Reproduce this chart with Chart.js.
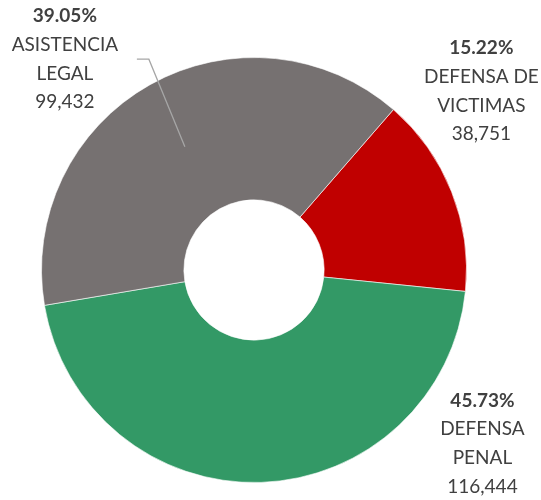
<script src="https://cdn.jsdelivr.net/npm/chart.js"></script>
<style>
    html, body { margin: 0; padding: 0; background: #fff; }
    .chart-container { width: 541px; height: 500px; position: relative; }
</style>
<div class="chart-container">
    <canvas id="shareChart" width="541" height="500"></canvas>
</div>

<script>
    // data, clockwise from the red slice
    var categories = [['DEFENSA DE', 'VICTIMAS'], ['DEFENSA', 'PENAL'], ['ASISTENCIA', 'LEGAL']];
    var caseCounts = [38751, 116444, 99432];
    var sliceColors = ['#C00000', '#339966', '#767171'];

    // draws the Excel style labels next to each slice
    var sliceLabels = {
        id: 'sliceLabels',
        afterDraw: function(chart, args, opts) {
            var ctx = chart.ctx;
            var meta = chart.getDatasetMeta(0);
            var total = caseCounts.reduce(function(a, b) { return a + b; }, 0);

            meta.data.forEach(function(arc, i) {
                var r = arc.outerRadius;
                var lx = arc.x + opts.offsets[i][0] * r;
                var ly = arc.y + opts.offsets[i][1] * r;
                var pct = (caseCounts[i] / total * 100).toFixed(2) + '%';
                var lines = [pct].concat(categories[i], [caseCounts[i].toLocaleString('en-US')]);
                var top = ly - (lines.length - 1) * opts.lineHeight / 2;

                ctx.save();
                ctx.fillStyle = '#404040';
                ctx.textAlign = 'center';
                ctx.textBaseline = 'middle';
                lines.forEach(function(txt, j) {
                    ctx.font = (j === 0 ? 'bold ' : '') + opts.fontSize + 'px ' + opts.fontFamily;
                    ctx.fillText(txt, lx, top + j * opts.lineHeight);
                });

                if (opts.leader[i]) {
                    var c = arc.getCenterPoint();
                    ctx.strokeStyle = '#A6A6A6';
                    ctx.lineWidth = 1.3;
                    ctx.beginPath();
                    ctx.moveTo(lx + 72, ly);
                    ctx.lineTo(lx + 84, ly);
                    ctx.lineTo(c.x, c.y);
                    ctx.stroke();
                }
                ctx.restore();
            });
        }
    };

    var ctx = document.getElementById('shareChart').getContext('2d');
    window.shareChart = new Chart(ctx, {
        type: 'doughnut',
        data: {
            labels: categories.map(function(l) { return l.join(' '); }),
            datasets: [{
                data: caseCounts,
                backgroundColor: sliceColors,
                borderColor: 'rgba(255,255,255,0.6)',
                borderWidth: 1
            }]
        },
        options: {
            responsive: false,
            animation: false,
            rotation: 41,
            cutout: '33%',
            layout: {
                padding: { left: 41, right: 74, top: 57, bottom: 17 }
            },
            plugins: {
                legend: { display: false },
                tooltip: { enabled: false },
                sliceLabels: {
                    offsets: [[1.070, -0.842], [1.075, 0.817], [-0.890, -0.992]],
                    leader: [false, false, true],
                    lineHeight: 28.7,
                    fontSize: 19,
                    fontFamily: 'Lato, "Open Sans", sans-serif'
                }
            }
        },
        plugins: [sliceLabels]
    });
</script>
